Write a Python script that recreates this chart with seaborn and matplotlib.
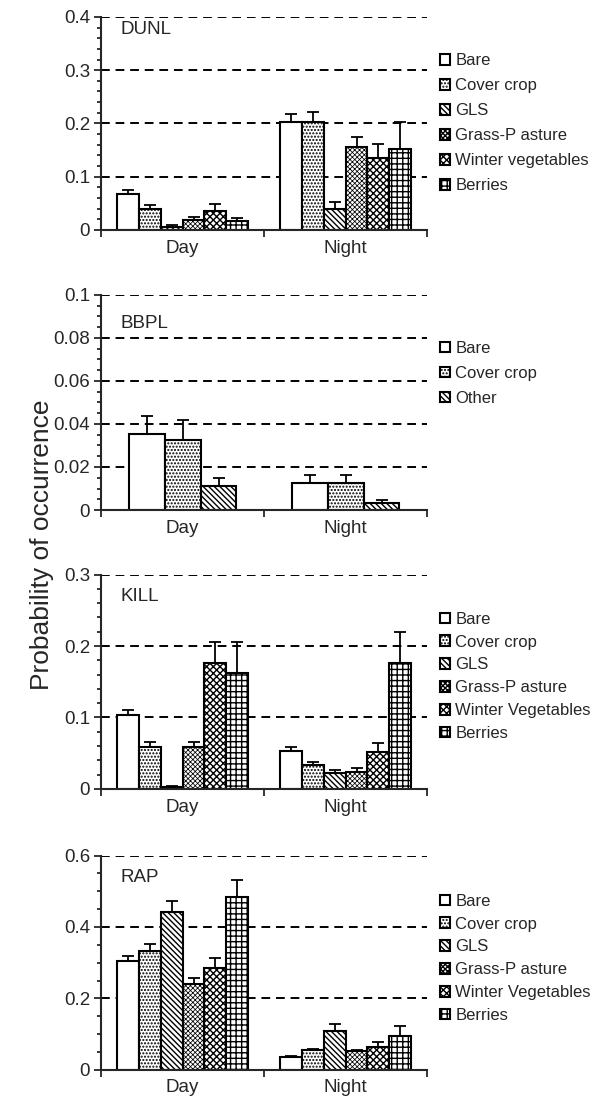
import matplotlib
matplotlib.use("Agg")
import matplotlib.pyplot as plt
from matplotlib.ticker import MultipleLocator, FuncFormatter
import numpy as np
import pandas as pd
import seaborn as sns

periods = ["Day", "Night"]

# DUNL
dunl_habitats = ["Bare", "Cover crop", "GLS", "Grass-P asture", "Winter vegetables", "Berries"]
dunl_day = [0.068, 0.040, 0.006, 0.019, 0.035, 0.016]
dunl_day_se = [0.007, 0.006, 0.003, 0.006, 0.013, 0.007]
dunl_night = [0.202, 0.202, 0.040, 0.155, 0.135, 0.152]
dunl_night_se = [0.016, 0.020, 0.012, 0.020, 0.027, 0.050]

# BBPL
bbpl_habitats = ["Bare", "Cover crop", "Other"]
bbpl_day = [0.0355, 0.0325, 0.0113]
bbpl_day_se = [0.0080, 0.0095, 0.0034]
bbpl_night = [0.0124, 0.0124, 0.0031]
bbpl_night_se = [0.0040, 0.0040, 0.0016]

# KILL
kill_habitats = ["Bare", "Cover crop", "GLS", "Grass-P asture", "Winter Vegetables", "Berries"]
kill_day = [0.103, 0.058, 0.002, 0.058, 0.176, 0.162]
kill_day_se = [0.007, 0.007, 0.002, 0.007, 0.029, 0.043]
kill_night = [0.053, 0.034, 0.022, 0.024, 0.052, 0.176]
kill_night_se = [0.005, 0.004, 0.005, 0.005, 0.012, 0.043]

# RAP
rap_habitats = ["Bare", "Cover crop", "GLS", "Grass-P asture", "Winter Vegetables", "Berries"]
rap_day = [0.304, 0.333, 0.442, 0.239, 0.286, 0.483]
rap_day_se = [0.014, 0.018, 0.031, 0.018, 0.028, 0.050]
rap_night = [0.035, 0.055, 0.110, 0.052, 0.065, 0.095]
rap_night_se = [0.003, 0.002, 0.018, 0.004, 0.013, 0.028]

hatch6 = ["", ".....", "\\" * 6, "x" * 7, "x" * 5, "+++"]
hatch_lw6 = [1.0, 1.0, 1.0, 0.55, 1.0, 1.0]
hatch3 = ["", ".....", "\\" * 6]
hatch_lw3 = [1.0, 1.0, 1.0]

sns.set_style("ticks")
plt.rcParams["font.family"] = ["Liberation Sans", "DejaVu Sans"]
plt.rcParams["hatch.linewidth"] = 1.0

fig = plt.figure(figsize=(5.95, 11.04), dpi=100)

panels = [
    # name, habitats, day, day_se, night, night_se, ymax, major, minor, hatches, hatch lw, width,
    # axes rect, label y, legend y, legend spacing
    ("DUNL", dunl_habitats, dunl_day, dunl_day_se, dunl_night, dunl_night_se, 0.4, 0.1, 0.02, hatch6, hatch_lw6, 0.8,
     [0.170, 0.7917, 0.548, 0.193], 0.94, 0.50, 0.6),
    ("BBPL", bbpl_habitats, bbpl_day, bbpl_day_se, bbpl_night, bbpl_night_se, 0.1, 0.02, 0.005, hatch3, hatch_lw3, 0.66,
     [0.170, 0.538, 0.548, 0.195], 0.865, 0.635, 0.6),
    ("KILL", kill_habitats, kill_day, kill_day_se, kill_night, kill_night_se, 0.3, 0.1, 0.02, hatch6, hatch_lw6, 0.8,
     [0.170, 0.2855, 0.548, 0.194], 0.90, 0.525, 0.47),
    ("RAP", rap_habitats, rap_day, rap_day_se, rap_night, rap_night_se, 0.6, 0.2, 0.05, hatch6, hatch_lw6, 0.8,
     [0.170, 0.0310, 0.548, 0.194], 0.90, 0.52, 0.47),
]

for (name, habitats, day, day_se, night, night_se, ymax, major, minor, hatches, hatch_lws, width,
     rect, label_y, leg_y, leg_sp) in panels:
    ax = fig.add_axes(rect)
    df = pd.DataFrame({
        "period": ["Day"] * len(habitats) + ["Night"] * len(habitats),
        "habitat": habitats + habitats,
        "value": day + night,
        "se": day_se + night_se,
    })
    sns.barplot(data=df, x="period", y="value", hue="habitat", order=periods,
                hue_order=habitats, palette=["white"] * len(habitats),
                edgecolor="black", linewidth=1.5, width=width, errorbar=None,
                saturation=1, ax=ax)
    bars = list(ax.containers)
    handles = []
    for cont, h, hlw, hab in zip(bars, hatches, hatch_lws, habitats):
        for p in cont.patches:
            p.set_hatch(h)
            if hasattr(p, "set_hatch_linewidth"):
                p.set_hatch_linewidth(hlw)
        handles.append(cont.patches[0])
        xs = [p.get_x() + p.get_width() / 2 for p in cont.patches]
        ys = df[df.habitat == hab].set_index("period").loc[periods]
        ax.errorbar(xs, ys["value"], yerr=[np.zeros(len(xs)), ys["se"]], fmt="none",
                    ecolor="black", elinewidth=1.3, capsize=4, capthick=1.3, zorder=3)

    ax.set_ylim(0, ymax)
    ax.set_xlim(-0.5, 1.5)
    ax.yaxis.set_major_locator(MultipleLocator(major))
    ax.yaxis.set_minor_locator(MultipleLocator(minor))
    ax.yaxis.set_major_formatter(FuncFormatter(lambda v, pos: "0" if abs(v) < 1e-9 else "%g" % round(v, 3)))
    ax.yaxis.grid(True, which="major", linestyle=(0, (4.5, 3)), color="black", linewidth=1.4)
    ax.set_axisbelow(True)
    ax.tick_params(axis="y", which="major", length=5, width=1.3, labelsize=13.5, direction="out", pad=3)
    ax.tick_params(axis="y", which="minor", length=3, width=1.3, direction="out")
    ax.set_xticks([0, 1])
    ax.set_xticklabels(periods)
    ax.set_xticks([-0.5, 0.5, 1.5], minor=True)
    ax.tick_params(axis="x", which="major", length=0, labelsize=13.5, pad=7)
    ax.tick_params(axis="x", which="minor", length=5, width=1.3, direction="out")
    for s in ["top", "right"]:
        ax.spines[s].set_visible(False)
    for s in ["left", "bottom"]:
        ax.spines[s].set_linewidth(1.5)
    ax.set_xlabel("")
    ax.set_ylabel("")
    ax.text(0.06, label_y, name, transform=ax.transAxes, fontsize=13.5, va="center", ha="left")
    ax.legend(handles, habitats, loc="center left", bbox_to_anchor=(1.02, leg_y), frameon=False,
              fontsize=12, handlelength=0.6, handleheight=0.6, handletextpad=0.3,
              labelspacing=leg_sp, borderaxespad=0)

fig.text(0.07, 0.507, "Probability of occurrence", rotation=90, fontsize=19, ha="center", va="center")

fig.savefig("out.png", dpi=100)
